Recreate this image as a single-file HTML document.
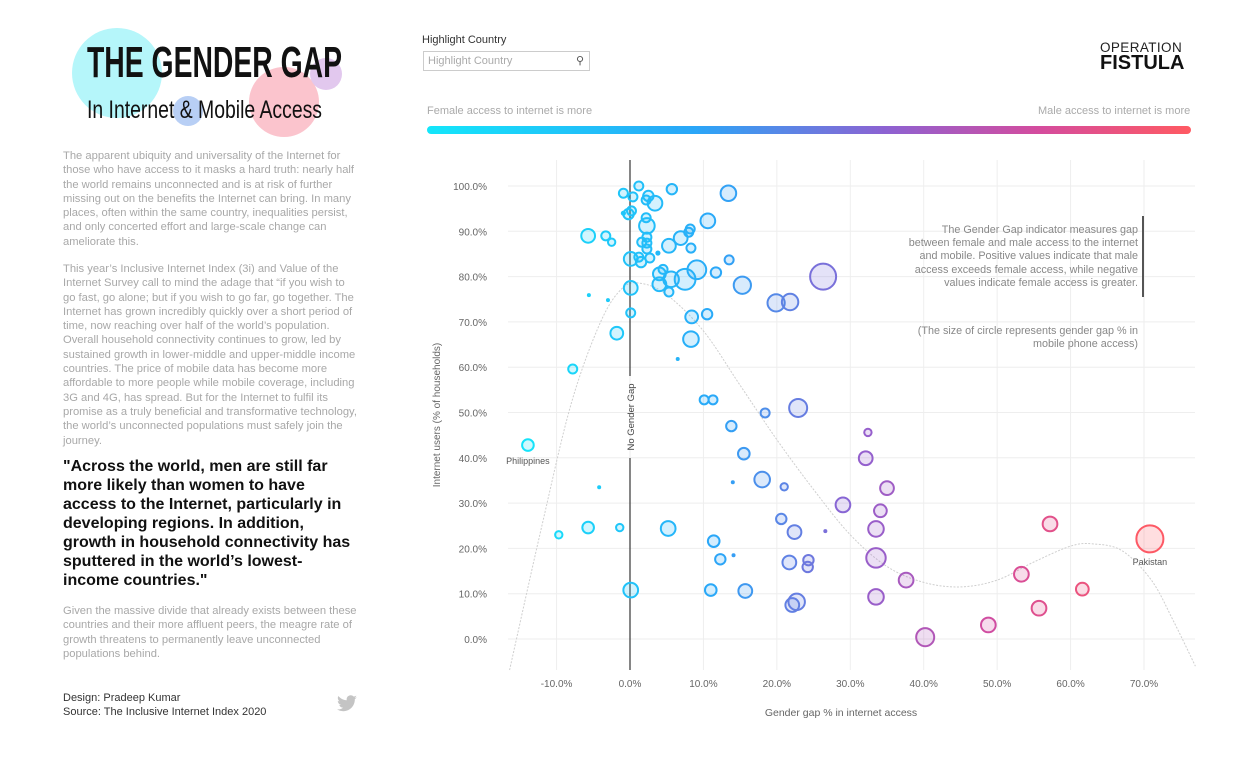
<!DOCTYPE html>
<html><head><meta charset="utf-8">
<style>
body{margin:0;background:#fff;width:1243px;height:763px;overflow:hidden;font-family:"Liberation Sans",sans-serif;position:relative}
.abs{position:absolute}
.p{color:#a8a8a8;font-size:11.2px;line-height:14.3px;width:297px}
</style></head><body>
<svg class="abs" style="left:0;top:0" width="400" height="140">
<circle cx="117" cy="73" r="45" fill="#b5f6fa"/>
<circle cx="188" cy="111" r="15" fill="#b8cff5"/>
<circle cx="284" cy="102" r="35" fill="#fbc4cd"/>
<circle cx="326" cy="74" r="16" fill="#e2c8ee"/>
<text x="87" y="77" font-family="Liberation Sans Narrow, Liberation Sans, sans-serif" font-weight="bold" font-size="44" textLength="255" lengthAdjust="spacingAndGlyphs" fill="#111">THE GENDER GAP</text>
<text x="87" y="118" font-family="Liberation Sans Narrow, Liberation Sans, sans-serif" font-size="25" textLength="235" lengthAdjust="spacingAndGlyphs" fill="#111">In Internet &amp; Mobile Access</text>
</svg>
<div class="abs p" style="left:63px;top:149px">The apparent ubiquity and universality of the Internet for those who have access to it masks a hard truth: nearly half the world remains unconnected and is at risk of further missing out on the benefits the Internet can bring. In many places, often within the same country, inequalities persist, and only concerted effort and large-scale change can ameliorate this.</div>
<div class="abs p" style="left:63px;top:262px;width:296px">This year’s Inclusive Internet Index (3i) and Value of the Internet Survey call to mind the adage that “if you wish to go fast, go alone; but if you wish to go far, go together. The Internet has grown incredibly quickly over a short period of time, now reaching over half of the world’s population. Overall household connectivity continues to grow, led by sustained growth in lower-middle and upper-middle income countries. The price of mobile data has become more affordable to more people while mobile coverage, including 3G and 4G, has spread. But for the Internet to fulfil its promise as a truly beneficial and transformative technology, the world’s unconnected populations must safely join the journey.</div>
<div class="abs" style="left:63px;top:457px;white-space:nowrap;font-size:16px;line-height:19px;font-weight:bold;color:#111">"Across the world, men are still far<br>more likely than women to have<br>access to the Internet, particularly in<br>developing regions. In addition,<br>growth in household connectivity has<br>sputtered in the world’s lowest-<br>income countries."</div>
<div class="abs p" style="left:63px;top:604px">Given the massive divide that already exists between these countries and their more affluent peers, the meagre rate of growth threatens to permanently leave unconnected populations behind.</div>
<div class="abs" style="left:63px;top:691px;font-size:11px;line-height:14px;color:#333">Design: Pradeep Kumar<br>Source: The Inclusive Internet Index 2020</div>
<svg class="abs" style="left:336px;top:695px" width="22" height="18" viewBox="0 0 24 20"><path d="M23 2.5c-.8.4-1.700.6-2.6.7.9-.6 1.6-1.4 2-2.5-.9.5-1.9.9-2.9 1.1C18.6.9 17.4.3 16.1.3c-2.5 0-4.5 2-4.5 4.5 0 .4 0 .7.1 1C7.900 5.6 4.6 3.8 2.4 1.1c-.4.7-.6 1.4-.6 2.3 0 1.6.8 2.9 2 3.7-.7 0-1.4-.2-2-.6 0 2.2 1.6 4 3.6 4.4-.7.2-1.4.2-2 .1.6 1.8 2.2 3.1 4.2 3.1-1.5 1.2-3.5 1.9-5.6 1.9H1c2 1.3 4.4 2 6.9 2 8.3 0 12.8-6.9 12.8-12.800v-.6c.9-.6 1.7-1.4 2.3-2.3z" fill="#c4c4c4"/></svg>

<div class="abs" style="left:422px;top:34px;font-size:11px;color:#333">Highlight Country</div>
<div class="abs" style="left:423px;top:51px;border:1px solid #ccc;font-size:11px;color:#aaa;line-height:18px;padding-left:4px;box-sizing:border-box;width:167px;height:20px">Highlight Country<span style="position:absolute;right:5px;top:0;color:#555">⚲</span></div>
<div class="abs" style="left:1100px;top:41px;font-size:13.5px;letter-spacing:.4px;color:#222;line-height:13px">OPERATION</div>
<div class="abs" style="left:1100px;top:54px;font-size:20px;font-weight:bold;color:#111;line-height:18px">FISTULA</div>
<div class="abs" style="left:427px;top:105px;font-size:11px;color:#aaa">Female access to internet is more</div>
<div class="abs" style="left:1038px;top:105px;font-size:11px;color:#aaa">Male access to internet is more</div>
<div class="abs" style="left:427px;top:126px;width:764px;height:8px;border-radius:4px;background:linear-gradient(90deg,#14e6fa,#2aa6f8 35%,#8d62d2 60%,#d44c9e 80%,#ff5a62)"></div>

<svg id="chart" class="abs" style="left:0;top:0" width="1243" height="763"></svg>

<div class="abs" style="left:898px;top:224px;width:240px;text-align:right;font-size:10.8px;line-height:13.2px;color:#888">The Gender Gap indicator measures gap between female and male access to the internet and mobile. Positive values indicate that male access exceeds female access, while negative values indicate female access is greater.</div>
<div class="abs" style="left:1142px;top:216px;width:2px;height:81px;background:#555"></div>
<div class="abs" style="left:898px;top:325px;width:240px;text-align:right;font-size:10.8px;line-height:13.2px;color:#888">(The size of circle represents gender gap % in mobile phone access)</div>

<script>
const xVals=[1.2,5.7,13.4,-0.9,0.4,2.5,2.2,3.4,0.2,-0.2,-0.9,2.2,2.3,10.6,8.2,8.0,-5.7,-3.3,-2.5,2.3,1.6,2.3,5.3,6.9,8.3,2.3,3.8,2.7,0.1,1.2,1.5,4.5,4.0,13.5,9.1,11.7,26.3,4.0,5.6,7.5,0.1,5.3,15.3,-5.6,-3.0,19.9,21.8,0.1,8.4,10.5,-1.8,8.3,6.5,-7.8,10.1,11.3,18.4,22.9,
-13.9,-4.2,-9.7,-5.7,-1.4,5.2,0.1,13.8,15.5,14.0,18.0,21.0,20.6,22.4,26.6,11.4,12.3,14.1,21.7,24.3,24.2,11.0,15.7,22.1,22.7,32.4,32.1,35.0,29.0,34.1,33.5,33.5,33.5,37.6,40.2,48.8,53.3,57.2,55.7,61.6,70.8];
const yVals=[100,99.3,98.4,98.4,97.6,97.8,96.9,96.2,94.5,93.8,94.0,93,91.2,92.3,90.5,89.8,89,89,87.6,88.7,87.6,87.4,86.8,88.5,86.3,86.1,85.2,84.1,83.9,84.3,83.2,81.6,80.6,83.7,81.5,80.9,80.0,78.3,79.4,79.4,77.5,76.6,78.1,75.9,74.8,74.2,74.4,72.0,71.1,71.7,67.5,66.2,61.8,59.6,52.8,52.8,49.9,51.0,
42.8,33.5,23,24.6,24.6,24.4,10.8,47.0,40.9,34.6,35.2,33.6,26.5,23.6,23.8,21.6,17.6,18.5,16.9,17.4,15.9,10.8,10.6,7.5,8.2,45.6,39.9,33.3,29.6,28.3,24.3,17.9,9.3,13.0,0.4,3.1,14.3,25.4,6.8,11.0,22.1];
const mobileGap=[3,4,9,3,3,4,3,8,3,4,1,3,9,8,3,3,7,3,2,3,3,3,7,7,3,3,1,3,7,3,4,3,6,3,13,4,25,7,9,16,7,3,11,0.3,0.3,11,10,3,6,4,6,9,0.3,3,3,3,3,12,
5,0.5,2,5,2,8,8,4,5,0.5,9,2,4,7,0.5,5,4,0.5,7,4,4,5,7,7,10,2,7,7,8,6,9,14,9,8,12,8,8,8,8,6,27];
const names=["Philippines","Pakistan"];
const trendX=[-16.4,-12,-8,-4,-1,1.5,5,10,15,20,25,30,35,40,45,50,55,60,63,67,71,74,77];
const trendY=[-7,25,52,70,77.5,78.5,76,68,56,44,33,23,16,12.5,11.5,13,17,20.5,21,19.5,13,4,-6];
const yTicks=[0,10,20,30,40,50,60,70,80,90,100];
const xTicks=[-10,0,10,20,30,40,50,60,70];

const svg=document.getElementById('chart');const NS='http://www.w3.org/2000/svg';
const X=v=>630+v*7.343, Y=v=>639-v*4.53;
function mk(t,a,p){const e=document.createElementNS(NS,t);for(const k in a)e.setAttribute(k,a[k]);(p||svg).appendChild(e);return e;}
const L=508,R=1195,T=160,B=670;
yTicks.forEach(t=>{const g=mk('line',{x1:L,x2:R,y1:Y(t),y2:Y(t),stroke:'#eeeeee'});


const tx=mk('text',{x:487,y:Y(t)+4,'text-anchor':'end','font-size':10,fill:'#666'});tx.textContent=t.toFixed(1)+'%';

});
xTicks.forEach(t=>{const g=mk('line',{x1:X(t),x2:X(t),y1:T,y2:B,stroke:'#eeeeee'});


const tx=mk('text',{x:X(t),y:687,'text-anchor':'middle','font-size':10,fill:'#666'});tx.textContent=t.toFixed(1)+'%';

});
const pts=trendX.map((v,i)=>[X(v),Math.min(B,Y(trendY[i]))]);
let d='M'+pts[0][0]+','+pts[0][1];
for(let i=0;i<pts.length-1;i++){const p0=pts[Math.max(0,i-1)],p1=pts[i],p2=pts[i+1],p3=pts[Math.min(pts.length-1,i+2)];
d+=`C${p1[0]+(p2[0]-p0[0])/6},${p1[1]+(p2[1]-p0[1])/6} ${p2[0]-(p3[0]-p1[0])/6},${p2[1]-(p3[1]-p1[1])/6} ${p2[0]},${p2[1]}`;}
const tr=mk('path',{d:d,fill:'none',stroke:'#cfcfcf','stroke-width':1,'stroke-dasharray':'2,1.5'});


const zl=mk('line',{x1:X(0),x2:X(0),y1:T,y2:376,stroke:'#444','stroke-width':1.3});


const zl2=mk('line',{x1:X(0),x2:X(0),y1:458,y2:B,stroke:'#444','stroke-width':1.3});


const zt=mk('text',{transform:`translate(${X(0)+4},417) rotate(-90)`,'text-anchor':'middle','font-size':9.5,fill:'#444'});zt.textContent='No Gender Gap';


const stops=[[-15,[20,230,250]],[12,[42,166,248]],[30,[141,98,210]],[50,[212,76,158]],[72,[255,90,98]]];
function col(v){if(v<=stops[0][0])return stops[0][1];for(let i=1;i<stops.length;i++){if(v<=stops[i][0]){const a=stops[i-1],b=stops[i],f=(v-a[0])/(b[0]-a[0]);return a[1].map((c,j)=>Math.round(c+(b[1][j]-c)*f));}}return stops[stops.length-1][1];}
xVals.forEach((v,i)=>{const c=col(v),r=Math.max(2,2.6*Math.sqrt(mobileGap[i]));
const e=mk('circle',{cx:X(v),cy:Y(yVals[i]),r:r,fill:`rgba(${c},0.2)`,stroke:`rgb(${c})`,'stroke-width':r<3?0:2});
if(r<3)e.setAttribute('fill',`rgb(${c})`);

});
const p1=mk('text',{x:X(-13.9),y:Y(42.8)+19,'text-anchor':'middle','font-size':9,fill:'#555'});p1.textContent=names[0];


const p2=mk('text',{x:X(70.8),y:Y(22.1)+26,'text-anchor':'middle','font-size':9,fill:'#555'});p2.textContent=names[1];


const yt=mk('text',{transform:'translate(440,415) rotate(-90)','text-anchor':'middle','font-size':10,fill:'#666'});yt.textContent='Internet users (% of households)';


const xt=mk('text',{x:841,y:716,'text-anchor':'middle','font-size':10.5,fill:'#666'});xt.textContent='Gender gap % in internet access';


</script>
</body></html>
